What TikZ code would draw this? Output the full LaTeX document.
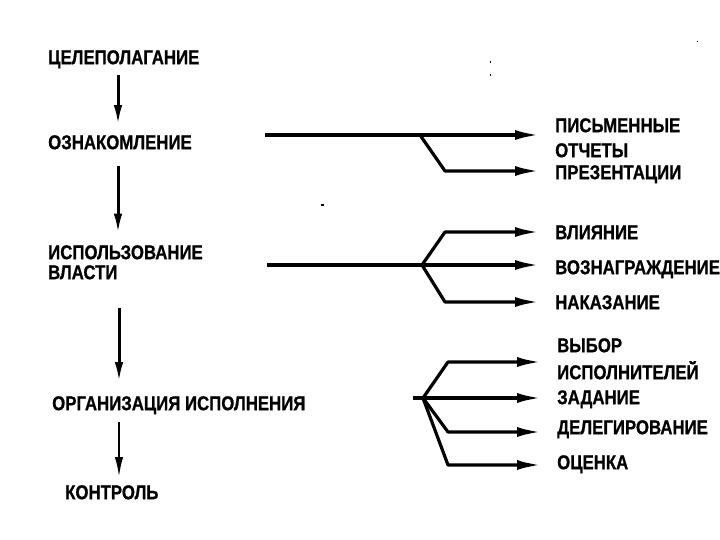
\documentclass[tikz,border=0pt]{standalone}
\usepackage{fontspec}
\setmainfont{Liberation Sans}[FakeStretch=0.84, BoldFeatures={FakeBold=0.8}]
\usetikzlibrary{arrows.meta,calc}
\begin{document}
\begin{tikzpicture}[x=1pt,y=-1pt,
  lbl/.style={anchor=base west, inner sep=0pt, align=left,
    font=\fontsize{20}{25}\selectfont\bfseries},
  flow/.style={line width=3pt, -{Latex[length=20pt,width=8.5pt]}},
  harrow/.style={line width=3.2pt, line join=round, shorten >=16pt,
    -{Latex[length=24pt,width=10pt]}},
  speck/.style={fill=black},
]
\useasboundingbox (0,0) rectangle (720,540);
\clip (0,0) rectangle (720,540);

% ---- left column ----
\node[lbl] (goal) at (48,64.2) {ЦЕЛЕПОЛАГАНИЕ};
\node[lbl] (fam) at (48,149.2) {ОЗНАКОМЛЕНИЕ};
\node[lbl, font=\fontsize{20}{20}\selectfont\bfseries] (power) at (48,279.2) {ИСПОЛЬЗОВАНИЕ\\ВЛАСТИ};
\node[lbl] (org) at (52,410.2) {ОРГАНИЗАЦИЯ ИСПОЛНЕНИЯ};
\node[lbl] (ctrl) at (65,499.2) {КОНТРОЛЬ};

\coordinate (vx) at (118,0);
\coordinate (vy) at (119,0);
\draw[flow] ($(goal.south -| vx)+(0,7)$) -- ($(fam.north -| vx)+(0,-10)$);
\draw[flow] ($(fam.south -| vx)+(0,16)$) -- ($(power.north -| vx)+(0,-11.5)$);
\draw[flow] ($(power.south -| vy)+(0,28)$) -- ($(org.north -| vy)+(0,-14)$);
\draw[flow, line width=2.2pt] ($(org.south -| vy)+(0,8)$) -- ($(ctrl.north -| vy)+(0,-8)$);

% ---- group 1 ----
\node[lbl] (rep) at (555,157.2) {ПИСЬМЕННЫЕ\\ОТЧЕТЫ};
\node[lbl] (pres) at (555,179.2) {ПРЕЗЕНТАЦИИ};
\coordinate (s1) at (265,135);
\coordinate (f1) at (420,135);
\coordinate (b1) at (445,171);
\draw[harrow] (s1) -- (rep.west |- s1);
\draw[harrow] (f1) -- (b1) -- (pres.west |- b1);

% ---- group 2 ----
\node[lbl] (infl) at (555,239.2) {ВЛИЯНИЕ};
\node[lbl] (rew) at (555,274.2) {ВОЗНАГРАЖДЕНИЕ};
\node[lbl] (pun) at (555,309.2) {НАКАЗАНИЕ};
\coordinate (s2) at (267,265);
\coordinate (f2) at (422,265);
\coordinate (u2) at (445,232);
\coordinate (d2) at (445,302);
\draw[harrow] (s2) -- (rew.west |- s2);
\draw[harrow] (f2) -- (u2) -- (infl.west |- u2);
\draw[harrow] (f2) -- (d2) -- (pun.west |- d2);

% ---- group 3 ----
\node[lbl, font=\fontsize{20}{27}\selectfont\bfseries] (sel) at (557,379.2) {ВЫБОР\\ИСПОЛНИТЕЛЕЙ};
\node[lbl] (task) at (557,404.2) {ЗАДАНИЕ};
\node[lbl] (del) at (557,434.2) {ДЕЛЕГИРОВАНИЕ};
\node[lbl] (eval) at (557,469.2) {ОЦЕНКА};
\coordinate (s3) at (413,398);
\coordinate (f3) at (423,398);
\coordinate (u3) at (448,362);
\coordinate (d3) at (448,432);
\coordinate (e3) at (448,465);
\draw[harrow] (s3) -- (task.west |- s3);
\draw[harrow] (f3) -- (u3) -- (sel.west |- u3);
\draw[harrow] (f3) -- (d3) -- (del.west |- d3);
\draw[harrow] (f3) -- (e3) -- (eval.west |- e3);

% ---- scan specks ----
\fill[speck] (489.5,61) rectangle (491,63);
\fill[speck] (489.5,74) rectangle (491,76);
\fill[speck] (696.5,41) rectangle (698,42.5);
\fill[speck] (321,204.5) rectangle (323.5,206);
\end{tikzpicture}
\end{document}
